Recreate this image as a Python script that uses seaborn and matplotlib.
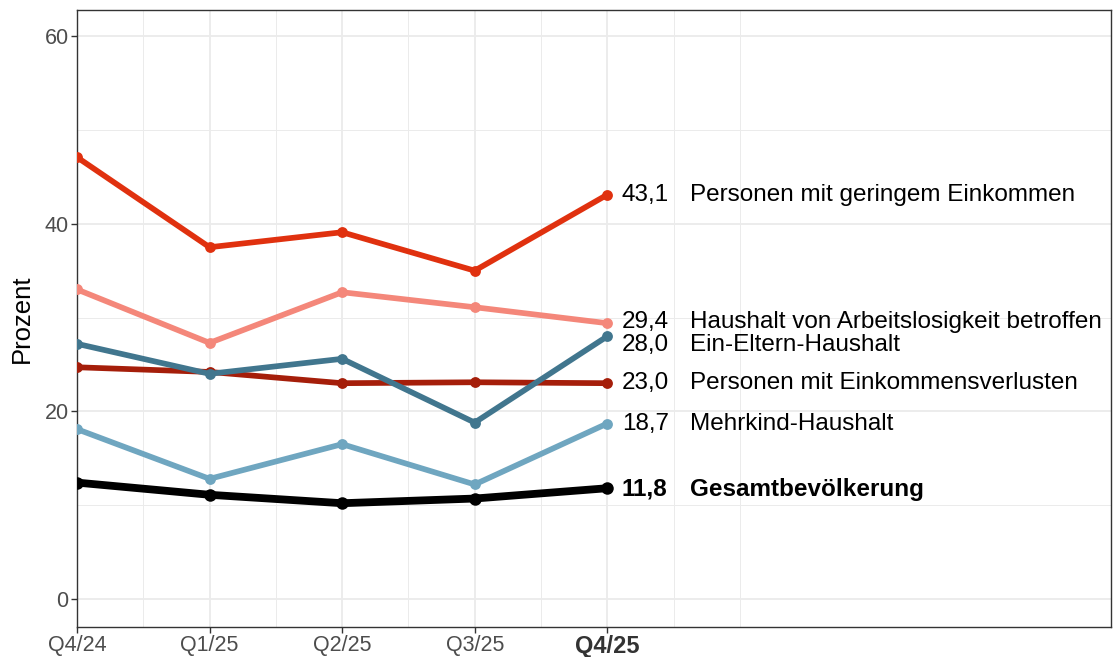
import matplotlib
matplotlib.use("Agg")
import matplotlib.pyplot as plt
import seaborn as sns
import pandas as pd
import numpy as np

quarters = ["Q4/24", "Q1/25", "Q2/25", "Q3/25", "Q4/25"]
groups = [
    "Personen mit geringem Einkommen",
    "Haushalt von Arbeitslosigkeit betroffen",
    "Personen mit Einkommensverlusten",
    "Ein-Eltern-Haushalt",
    "Mehrkind-Haushalt",
    "Gesamtbevölkerung",
]
geringes_einkommen = [47.1, 37.5, 39.1, 35.0, 43.1]
arbeitslosigkeit = [33.0, 27.3, 32.7, 31.1, 29.4]
einkommensverluste = [24.7, 24.2, 23.0, 23.1, 23.0]
ein_eltern = [27.2, 24.0, 25.6, 18.8, 28.0]
mehrkind = [18.1, 12.8, 16.5, 12.2, 18.7]
gesamt = [12.4, 11.1, 10.2, 10.7, 11.8]
value_labels = ["43,1", "29,4", "23,0", "28,0", "18,7", "11,8"]

series = [geringes_einkommen, arbeitslosigkeit, einkommensverluste, ein_eltern, mehrkind, gesamt]
colors = ["#E0310F", "#F4877A", "#A51E0A", "#41768E", "#6FA6C0", "#000000"]
label_y = [43.1, 29.5, 23.0, 27.1, 18.6, 11.7]

rows = []
for g, vals in zip(groups, series):
    for i, v in enumerate(vals):
        rows.append({"group": g, "x": i, "quarter": quarters[i], "value": v})
df = pd.DataFrame(rows)

sns.set_theme(style="white")
plt.rcParams["font.family"] = ["Liberation Sans", "DejaVu Sans"]

fig = plt.figure(figsize=(11.13, 6.57), dpi=100)
ax = fig.add_axes([77 / 1113, 30 / 657, (1111 - 77) / 1113, (627 - 10) / 657])

# grid
for xv in np.arange(0, 5.01, 0.5):
    major = float(xv).is_integer() and xv <= 4
    ax.axvline(xv, color="#EBEBEB", lw=1.3 if major else 0.7, zorder=0)
for yv in range(0, 61, 10):
    ax.axhline(yv, color="#EBEBEB", lw=1.3 if yv % 20 == 0 else 0.7, zorder=0)

for g, c in zip(groups, colors):
    sub = df[df["group"] == g]
    black = g == "Gesamtbevölkerung"
    sns.lineplot(data=sub, x="x", y="value", color=c, ax=ax,
                 linewidth=5.6 if black else 4.1, marker="o",
                 markersize=9 if black else 7.8, markeredgewidth=0,
                 zorder=4 if black else 3, legend=False)

for g, lab, ly in zip(groups, value_labels, label_y):
    bold = g == "Gesamtbevölkerung"
    ax.text(4.11, ly, lab, fontsize=17.5, ha="left", va="center",
            fontweight="bold" if bold else "normal", color="black")
    ax.text(4.625, ly, g, fontsize=17.5, ha="left", va="center",
            fontweight="bold" if bold else "normal", color="black")

ax.set_xlim(0, 7.8)
ax.set_ylim(-3, 62.8)
ax.set_xticks(range(5))
ax.set_xticklabels(quarters, fontsize=15.5, color="#4D4D4D")
ax.get_xticklabels()[-1].set_fontweight("bold")
ax.get_xticklabels()[-1].set_fontsize(17)
ax.get_xticklabels()[-1].set_color("#333333")
ax.set_yticks([0, 20, 40, 60])
ax.set_yticklabels(["0", "20", "40", "60"], fontsize=15.5, color="#4D4D4D")
ax.tick_params(axis="both", length=4, width=1, color="#333333", pad=2, bottom=True, left=True)
ax.set_xlabel("")
ax.set_ylabel("Prozent", fontsize=18.5, color="black", labelpad=8)
for s in ax.spines.values():
    s.set_color("#333333")
    s.set_linewidth(1.0)
    s.set_visible(True)

fig.savefig("out.png", dpi=100)
